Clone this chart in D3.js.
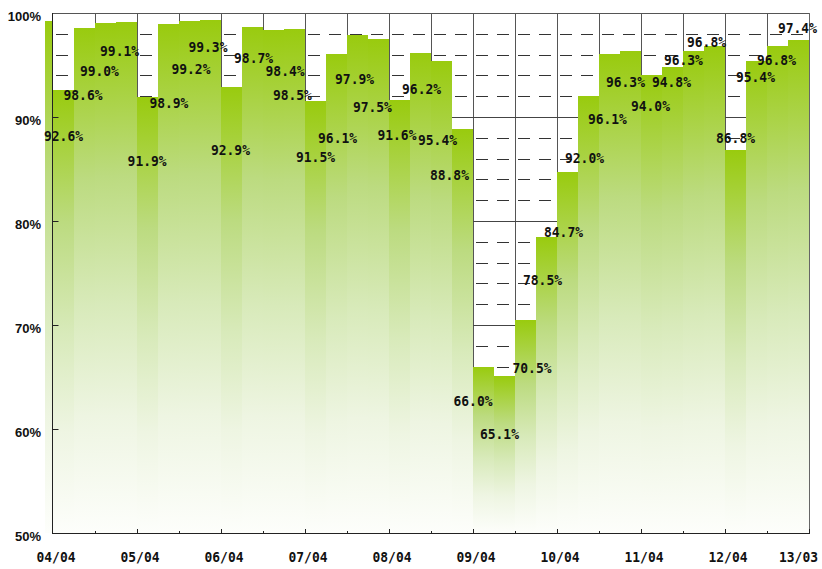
<!DOCTYPE html>
<html>
<head>
<meta charset="utf-8">
<script src="https://cdn.jsdelivr.net/npm/d3@7"></script>
<style>
  html, body { margin: 0; padding: 0; background: #fff; }
  svg { display: block; }
</style>
</head>
<body>
<svg id="chart" width="822" height="569"></svg>
<script>
// Quarterly rate, 2004/Q2 (04/04) through 2013/Q1 (13/03)
const rates = [
  92.6, 98.6, 99.0, 99.1,
  91.9, 98.9, 99.2, 99.3,
  92.9, 98.7, 98.4, 98.5,
  91.5, 96.1, 97.9, 97.5,
  91.6, 96.2, 95.4, 88.8,
  66.0, 65.1, 70.5, 78.5,
  84.7, 92.0, 96.1, 96.3,
  94.0, 94.8, 96.3, 96.8,
  86.8, 95.4, 96.8, 97.4
];
// the quarter just before the series, only its edge shows
const priorRate = 99.2;

// where each value label sits, in data units (quarter position, rate level)
const labelQuarter = [
  0.50, 1.43, 2.21, 3.17,
  4.48, 5.52, 6.57, 7.38,
  8.45, 9.55, 11.05, 11.40,
  12.50, 13.55, 14.36, 15.21,
  16.38, 17.55, 18.31, 18.88,
  20.00, 21.26, 22.81, 23.31,
  24.31, 25.31, 26.40, 27.26,
  28.45, 29.45, 30.02, 31.12,
  32.50, 33.45, 34.45, 35.45
];
const labelLevel = [
  88.2, 92.1, 94.4, 96.3,
  85.8, 91.3, 94.6, 96.7,
  86.8, 95.7, 94.4, 92.1,
  86.2, 88.0, 93.7, 91.0,
  88.3, 92.7, 87.8, 84.4,
  62.7, 59.5, 65.9, 74.3,
  78.9, 86.1, 89.8, 93.4,
  91.1, 93.4, 95.5, 97.2,
  88.0, 93.8, 95.5, 98.6
];

// x-axis labels and the quarter position each one marks
const xTickLabels = ["04/04", "05/04", "06/04", "07/04", "08/04", "09/04", "10/04", "11/04", "12/04", "13/03"];
const xTickQuarter = [0, 4, 8, 12, 16, 20, 24, 28, 32, 35.5];

// y-axis labels
const yTickValues = [50, 60, 70, 80, 90, 100];

const svg = d3.select("#chart");
const x = d3.scaleLinear().domain([0, rates.length]).range([53, 809]);
const y = d3.scaleLinear().domain([50, 100]).range([533, 13]);
const crisp = v => Math.round(v) - 0.5;

// vertical fade used by every bar
const defs = svg.append("defs");
const grad = defs.append("linearGradient")
  .attr("id", "barFade").attr("x1", 0).attr("y1", 0).attr("x2", 0).attr("y2", 1);
[[0, "#99cb0e"], [0.3, "#bcdb80"], [0.55, "#d8eaba"], [0.77, "#eef5e2"], [1, "#fdfefb"]]
  .forEach(([o, c]) => grad.append("stop").attr("offset", o).attr("stop-color", c));

defs.append("clipPath").attr("id", "plotClip")
  .append("rect")
  .attr("x", x(0) - 8).attr("y", 0)
  .attr("width", x(rates.length) - x(0) + 8).attr("height", y(50));

// grid
const grid = svg.append("g").attr("class", "grid");
d3.range(2, rates.length + 1, 2).forEach(q => {
  grid.append("line")
    .attr("x1", crisp(x(q)) + 1).attr("x2", crisp(x(q)) + 1)
    .attr("y1", y(100)).attr("y2", y(50))
    .attr("stroke", "#555").attr("stroke-width", 1);
});
d3.range(52, 100, 2).forEach(v => {
  const solid = v % 10 === 0;
  grid.append("line")
    .attr("x1", x(0) + (solid ? 0 : 3)).attr("x2", x(rates.length))
    .attr("y1", crisp(y(v)) + 1).attr("y2", crisp(y(v)) + 1)
    .attr("stroke", solid ? "#444" : "#333")
    .attr("stroke-width", 1)
    .attr("stroke-dasharray", solid ? null : "12,9");
});
grid.append("line")
  .attr("x1", x(0)).attr("x2", x(rates.length))
  .attr("y1", crisp(y(100)) + 1).attr("y2", crisp(y(100)) + 1)
  .attr("stroke", "#555");

// bars
const bars = svg.append("g").attr("clip-path", "url(#plotClip)");
const barData = [{ q: -1, v: priorRate }].concat(rates.map((v, i) => ({ q: i, v })));
bars.selectAll("rect")
  .data(barData)
  .join("rect")
  .attr("x", d => x(d.q))
  .attr("width", d => x(d.q + 1) - x(d.q))
  .attr("y", d => y(d.v))
  .attr("height", d => y(50) - y(d.v))
  .attr("fill", "url(#barFade)")
  .attr("shape-rendering", "crispEdges");

// axes frame
const frame = svg.append("g").attr("stroke", "#222").attr("stroke-width", 1);
frame.append("line")
  .attr("x1", crisp(x(0))).attr("x2", crisp(x(0)))
  .attr("y1", y(100)).attr("y2", y(50) + 1);
frame.append("line")
  .attr("x1", crisp(x(0))).attr("x2", crisp(x(rates.length)) + 1)
  .attr("y1", crisp(y(50)) + 1).attr("y2", crisp(y(50)) + 1);
frame.append("line")
  .attr("x1", crisp(x(rates.length)) + 1).attr("x2", crisp(x(rates.length)) + 1)
  .attr("y1", y(100)).attr("y2", y(50) + 1)
  .attr("stroke", "#666");

// y ticks, pointing into the plot
yTickValues.filter(v => v > 50 && v < 100).forEach(v => {
  frame.append("line")
    .attr("x1", crisp(x(0))).attr("x2", crisp(x(0)) + 6)
    .attr("y1", crisp(y(v)) + 1).attr("y2", crisp(y(v)) + 1);
});
// x ticks every half year, longer at each year
d3.range(2, rates.length + 1, 2).forEach(q => {
  const len = q % 4 === 0 ? 5 : 3;
  frame.append("line")
    .attr("x1", crisp(x(q)) + 1).attr("x2", crisp(x(q)) + 1)
    .attr("y1", y(50) + 1).attr("y2", y(50) + 1 - len);
});

// y-axis labels
svg.append("g")
  .selectAll("text")
  .data(yTickValues)
  .join("text")
  .attr("x", 41)
  .attr("y", d => y(d) + 3)
  .attr("text-anchor", "end")
  .attr("dominant-baseline", "central")
  .attr("font-family", "'Liberation Sans', Arial, sans-serif")
  .attr("font-weight", "bold")
  .attr("font-size", 13)
  .attr("fill", "#111")
  .text(d => d + "%");

// x-axis labels
const monoFont = "'DejaVu Sans Mono', 'Liberation Mono', monospace";
svg.append("g")
  .selectAll("text")
  .data(xTickLabels)
  .join("text")
  .attr("x", (d, i) => x(xTickQuarter[i]) + (i < xTickLabels.length - 1 ? 3 : 0))
  .attr("y", 557)
  .attr("text-anchor", "middle")
  .attr("dominant-baseline", "central")
  .attr("font-family", monoFont)
  .attr("font-weight", "bold")
  .attr("font-size", 14)
  .attr("textLength", 39)
  .attr("lengthAdjust", "spacingAndGlyphs")
  .attr("fill", "#111")
  .text(d => d);

// value labels
svg.append("g")
  .selectAll("text")
  .data(rates)
  .join("text")
  .attr("x", (d, i) => x(labelQuarter[i]))
  .attr("y", (d, i) => y(labelLevel[i]))
  .attr("text-anchor", "middle")
  .attr("dominant-baseline", "central")
  .attr("font-family", monoFont)
  .attr("font-weight", "bold")
  .attr("font-size", 14)
  .attr("textLength", 39)
  .attr("lengthAdjust", "spacingAndGlyphs")
  .attr("fill", "#111")
  .text(d => d.toFixed(1) + "%");
</script>
</body>
</html>
